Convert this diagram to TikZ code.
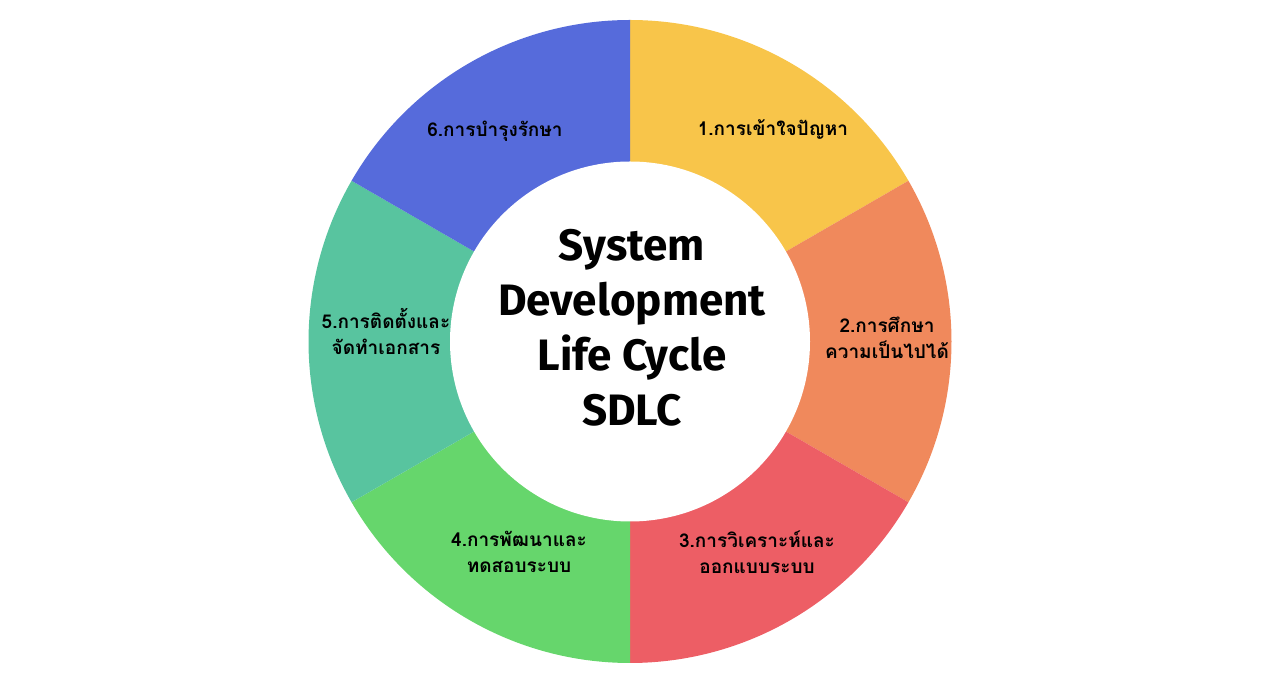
\documentclass[tikz,border=0pt]{standalone}
\usepackage{fontspec}
\setmainfont{Fira Sans}
\newfontfamily\thaifont[Script=Thai]{Loma}
\usepackage{tikz}

\definecolor{segyellow}{HTML}{F8C54A}
\definecolor{segorange}{HTML}{F0895C}
\definecolor{segred}{HTML}{ED5E65}
\definecolor{seggreen}{HTML}{66D66C}
\definecolor{segteal}{HTML}{58C49F}
\definecolor{segblue}{HTML}{566BDB}

\tikzset{
  phase/.style={align=center, font=\thaifont\bfseries\fontsize{19}{26}\selectfont, text=black},
  hub/.style={circle, fill=white, minimum size=360pt, align=center,
    font=\bfseries\fontsize{44}{55}\selectfont, text=black}
}

\begin{document}
\begin{tikzpicture}[x=1pt,y=1pt]
    \useasboundingbox (0,0) rectangle (1280,682);
    \coordinate (c) at (630,340.5);
    % ring segments
    \fill[segyellow] (c) -- ++(90:321.5) arc[start angle=90, end angle=30, radius=321.5] -- cycle;
    \fill[segorange] (c) -- ++(30:321.5) arc[start angle=30, end angle=-30, radius=321.5] -- cycle;
    \fill[segred] (c) -- ++(-30:321.5) arc[start angle=-30, end angle=-90, radius=321.5] -- cycle;
    \fill[seggreen] (c) -- ++(-90:321.5) arc[start angle=-90, end angle=-150, radius=321.5] -- cycle;
    \fill[segteal] (c) -- ++(-150:321.5) arc[start angle=-150, end angle=-210, radius=321.5] -- cycle;
    \fill[segblue] (c) -- ++(150:321.5) arc[start angle=150, end angle=90, radius=321.5] -- cycle;
    \node[hub] (sdlc) at (c) {};
    \node[hub, fill=none, minimum size=0pt] (title) at (632,354) {System\\Development\\Life Cycle\\SDLC};
    % phases
    \node[phase] (p1) at (773,552) {1.การเข้าใจปัญหา};
    \node[phase] (p2) at (887,344) {2.การศึกษา\\ความเป็นไปได้};
    \node[phase] (p3) at (757,130) {3.การวิเคราะห์และ\\ออกแบบระบบ};
    \node[phase] (p4) at (519,130) {4.การพัฒนาและ\\ทดสอบระบบ};
    \node[phase] (p5) at (386,351) {5.การติดตั้งและ\\จัดทำเอกสาร};
    \node[phase] (p6) at (495,551) {6.การบำรุงรักษา};
  \end{tikzpicture}
\end{document}
